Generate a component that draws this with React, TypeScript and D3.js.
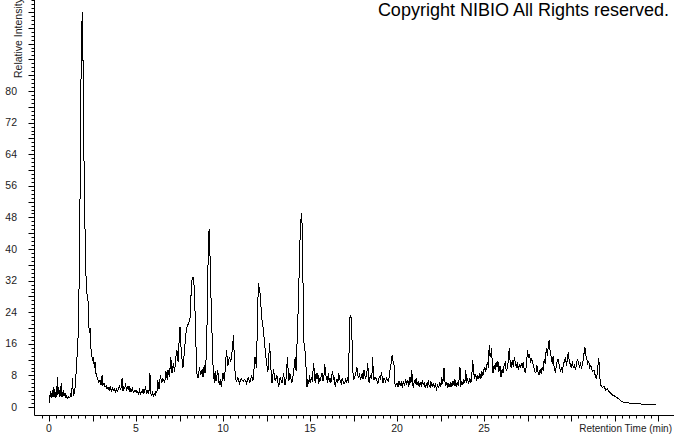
import React, { useRef, useEffect } from 'react';
import * as d3 from 'd3';

// [retention time (min), relative intensity]
const solventFront = [
  [0.0, 1.0], [0.02, 3.0], [0.05, 2.0], [0.08, 4.0], [0.11, 2.5], [0.14, 3.6], [0.17, 2.2], [0.2, 4.2], [0.23, 2.6], [0.26, 5.0],
  [0.29, 2.8], [0.32, 4.5], [0.35, 2.4], [0.38, 3.8], [0.41, 2.6], [0.44, 5.2], [0.47, 3.0], [0.5, 7.6], [0.53, 3.2], [0.56, 4.8],
  [0.6, 2.6], [0.63, 4.4], [0.66, 2.8], [0.7, 6.0], [0.73, 2.5], [0.76, 3.8], [0.8, 2.6], [0.84, 4.2], [0.88, 2.8], [0.92, 3.5],
  [0.96, 2.5], [1.0, 2.8], [1.05, 2.2], [1.1, 2.6], [1.15, 2.3], [1.2, 2.5], [1.25, 3.2], [1.3, 2.6], [1.35, 7.3], [1.4, 2.8],
  [1.45, 3.5], [1.5, 5.0], [1.58, 10], [1.69, 19.5], [1.76, 40], [1.8, 62], [1.83, 80], [1.88, 94.7], [1.91, 100], [1.95, 90],
  [1.97, 80], [2.03, 55], [2.11, 35], [2.17, 29], [2.24, 27], [2.31, 18.7], [2.39, 20], [2.42, 13.7], [2.5, 12.0], [2.56, 12.7],
  [2.6, 10], [2.65, 11.5], [2.7, 8.5], [2.76, 7.6], [2.85, 6.3], [2.93, 6.8], [3.0, 5.5], [3.05, 8.0], [3.1, 5.6], [3.16, 6.0],
  [3.22, 5.0], [3.28, 5.4], [3.34, 4.6], [3.4, 5.0], [3.46, 4.3], [3.52, 5.2], [3.58, 4.0], [3.64, 4.8], [3.7, 4.2], [3.76, 4.6],
  [3.82, 3.8], [3.88, 4.5], [3.94, 4.0], [4.0, 4.8], [4.05, 5.5], [4.1, 4.3], [4.15, 5.0], [4.2, 7.3], [4.25, 4.0], [4.3, 5.2],
  [4.35, 4.5], [4.4, 6.0], [4.45, 4.0], [4.5, 5.0], [4.55, 4.4], [4.6, 5.2], [4.65, 3.8], [4.7, 4.6], [4.75, 4.0], [4.8, 4.6],
  [4.85, 3.5], [4.9, 4.2], [4.95, 3.8], [5.0, 4.3], [5.05, 3.6], [5.1, 4.0], [5.15, 3.4], [5.2, 4.2], [5.25, 3.3], [5.3, 4.0],
  [5.35, 3.6], [5.4, 4.5], [5.45, 3.5], [5.5, 4.2], [5.55, 5.2], [5.6, 3.6], [5.65, 4.0], [5.7, 3.5], [5.75, 4.2], [5.8, 8.6],
  [5.85, 3.5], [5.9, 3.0], [5.95, 3.6], [6.0, 2.8], [6.05, 3.4], [6.1, 3.0], [6.15, 4.0], [6.2, 3.6],
];

const earlyPeaks = [
  [6.25, 6.8], [6.32, 4.5], [6.4, 8.0], [6.48, 6.0], [6.55, 7.2], [6.65, 6.2], [6.72, 9.0], [6.8, 6.8], [6.84, 9.4], [6.92, 7.5],
  [7.0, 12.7], [7.07, 8.5], [7.15, 11.0], [7.22, 9.0], [7.3, 13.0], [7.35, 14.4], [7.42, 11.5], [7.47, 16], [7.53, 20.3], [7.6, 14],
  [7.7, 9.9], [7.78, 14], [7.9, 20], [8.0, 21], [8.1, 22], [8.2, 32], [8.29, 33], [8.35, 30], [8.39, 24.5], [8.45, 15],
  [8.49, 8.6], [8.57, 7.3], [8.65, 10], [8.72, 8.0], [8.8, 9.5], [8.85, 7.5], [8.92, 10.5], [8.97, 8.5], [9.05, 13.7], [9.1, 25],
  [9.15, 39], [9.2, 45], [9.25, 39], [9.32, 26], [9.42, 11], [9.5, 6], [9.55, 9.0], [9.6, 6.5], [9.7, 9.4], [9.78, 5.5],
  [9.85, 7.0], [9.9, 5.0], [10.0, 8.6], [10.08, 6.5], [10.2, 14.4], [10.28, 10.5], [10.37, 12.7], [10.45, 11.5], [10.55, 15.0], [10.6, 18.2],
  [10.67, 10], [10.76, 6.3], [10.85, 7.5], [10.95, 6.0], [11.05, 7.2], [11.15, 6.5], [11.25, 7.0], [11.35, 6.0], [11.45, 7.5], [11.55, 6.2],
  [11.65, 8.0], [11.72, 6.5], [11.84, 12.7], [11.92, 10], [12.03, 31.4], [12.13, 28.9], [12.22, 22.8], [12.32, 19.5], [12.41, 15.2], [12.5, 11],
  [12.58, 9], [12.68, 16.2], [12.75, 10], [12.82, 6], [12.9, 9.5], [13.0, 6.5], [13.1, 8.0], [13.2, 5.0], [13.28, 7.5], [13.4, 6.0],
  [13.48, 8.5], [13.56, 5.5], [13.65, 8.0], [13.7, 12.7], [13.78, 6.5], [13.85, 8.5], [13.95, 6.0], [14.05, 8.5], [14.15, 12.7], [14.2, 9.0],
  [14.33, 26], [14.43, 43], [14.5, 49], [14.57, 44.8], [14.63, 17], [14.73, 13.7],
];

const midTrace = [
  [14.83, 5], [14.88, 7.0], [14.93, 5.8], [14.98, 8.0], [15.03, 6.0], [15.08, 7.6], [15.13, 6.4], [15.18, 9.5], [15.22, 11], [15.26, 7.0],
  [15.3, 6.6], [15.35, 8.5], [15.4, 7.0], [15.45, 8.6], [15.5, 5.9], [15.55, 7.2], [15.6, 6.5], [15.65, 8.0], [15.7, 8.6], [15.75, 6.5],
  [15.8, 7.8], [15.85, 11], [15.9, 8.0], [15.95, 7.6], [16.0, 6.2], [16.05, 8.5], [16.1, 6.4], [16.15, 7.2], [16.2, 6.0], [16.25, 8.0],
  [16.3, 9.0], [16.35, 6.8], [16.4, 7.5], [16.45, 5.0], [16.5, 6.5], [16.55, 7.0], [16.6, 6.0], [16.65, 8.6], [16.7, 7.0], [16.75, 6.5],
  [16.8, 6.0], [16.85, 7.2], [16.9, 6.5], [16.95, 5.8], [17.0, 6.0], [17.05, 7.0], [17.1, 6.5], [17.15, 7.2], [17.2, 6.2], [17.25, 15],
  [17.3, 22.8], [17.35, 23.3], [17.4, 20], [17.45, 10], [17.5, 6.8], [17.55, 7.5], [17.6, 8.0], [17.65, 9.0], [17.7, 10], [17.75, 8.0],
  [17.8, 7.5], [17.85, 8.5], [17.9, 6.8], [17.95, 7.5], [18.0, 8.5], [18.05, 7.0], [18.1, 9.4], [18.15, 8.0], [18.2, 7.0], [18.26, 8.5],
  [18.32, 11], [18.36, 8.0], [18.4, 6.0], [18.45, 7.5], [18.5, 8.0], [18.55, 7.2], [18.6, 12.7], [18.64, 8.5], [18.68, 6.8], [18.74, 7.5],
  [18.8, 7.2], [18.85, 6.5], [18.9, 6.0], [18.95, 7.0], [19.0, 7.8], [19.05, 6.8], [19.1, 8.9], [19.15, 7.5], [19.2, 6.0], [19.25, 7.2],
  [19.3, 7.0], [19.35, 6.2], [19.4, 7.6], [19.45, 6.8], [19.5, 6.5], [19.55, 7.5], [19.6, 9.4], [19.66, 11], [19.72, 13.2], [19.78, 11.5],
  [19.83, 10.6], [19.87, 7.0], [19.9, 5.0], [19.95, 5.8], [20.0, 6.0], [20.06, 5.0], [20.12, 6.6], [20.18, 5.4], [20.25, 6.2], [20.3, 4.9],
  [20.37, 6.5], [20.43, 5.3], [20.5, 7.0], [20.55, 5.6], [20.62, 6.8], [20.68, 5.2], [20.75, 7.6], [20.8, 6.0], [20.85, 9.4], [20.9, 5.5],
  [20.95, 5.0], [21.0, 6.8], [21.05, 5.8], [21.1, 7.2], [21.15, 5.5], [21.22, 6.5], [21.28, 5.0], [21.33, 6.3], [21.4, 5.2], [21.45, 6.8],
  [21.5, 5.6], [21.56, 6.2], [21.62, 4.8], [21.68, 5.9], [21.75, 5.2], [21.8, 6.8], [21.85, 5.4], [21.9, 5.0], [21.95, 6.5], [22.02, 5.2],
  [22.08, 6.0], [22.14, 5.0], [22.2, 5.8], [22.27, 4.6], [22.33, 5.6], [22.4, 5.0], [22.46, 6.2], [22.52, 5.2], [22.57, 7.6], [22.63, 5.8],
  [22.7, 9.9], [22.75, 6.5], [22.8, 5.4], [22.86, 6.4], [22.92, 4.9], [22.98, 6.0], [23.04, 5.0], [23.1, 6.2], [23.16, 5.2], [23.22, 6.6],
  [23.28, 5.4], [23.33, 7.0], [23.4, 5.0], [23.46, 6.3], [23.52, 5.3], [23.58, 7.5], [23.62, 10], [23.66, 5.0], [23.72, 6.5], [23.78, 5.6],
  [23.84, 7.0], [23.9, 6.0], [23.95, 9.4], [24.0, 6.2], [24.06, 7.0], [24.12, 5.8], [24.18, 7.4], [24.24, 6.0], [24.3, 8.0], [24.35, 11.9],
  [24.4, 9.0], [24.46, 7.2], [24.52, 8.4], [24.58, 6.5], [24.64, 8.0], [24.7, 7.0], [24.76, 8.5], [24.82, 7.2], [24.88, 9.0], [24.94, 8.0],
];

const lateHump = [
  [25.0, 9.5], [25.05, 10], [25.1, 8.8], [25.15, 10.5], [25.2, 11.4], [25.25, 10.0], [25.3, 15.7], [25.35, 12.7], [25.4, 13.5], [25.43, 14.9],
  [25.48, 11], [25.52, 8.6], [25.58, 10.5], [25.64, 9.5], [25.7, 11.4], [25.75, 10.2], [25.8, 11.5], [25.86, 9.0], [25.92, 10.4], [25.98, 7.6],
  [26.04, 9.5], [26.1, 8.5], [26.16, 10.6], [26.22, 11.2], [26.28, 9.2], [26.35, 9.9], [26.4, 12.0], [26.45, 14.9], [26.5, 11.5], [26.56, 10],
  [26.62, 11.8], [26.68, 10.2], [26.75, 12.7], [26.8, 11.0], [26.86, 10.0], [26.92, 11.3], [26.97, 9.4], [27.03, 10.8], [27.09, 9.8], [27.15, 11.2],
  [27.2, 10.0], [27.26, 11.5], [27.32, 9.2], [27.38, 8.9], [27.44, 10.5], [27.5, 14.4], [27.56, 12.5], [27.62, 13.2], [27.68, 11.5], [27.74, 12.2],
  [27.8, 11.0], [27.86, 10.2], [27.92, 9.0], [27.98, 8.6], [28.04, 10.5], [28.1, 9.0], [28.16, 8.1], [28.22, 9.5], [28.28, 8.5], [28.34, 10.0],
  [28.4, 9.4], [28.46, 12.0], [28.52, 11.0], [28.58, 14.9], [28.64, 13.0], [28.7, 15.5], [28.75, 17.0], [28.8, 14.0], [28.86, 12.7], [28.92, 11.0],
  [28.98, 13.0], [29.04, 9.5], [29.1, 8.9], [29.16, 10.5], [29.22, 12.0], [29.28, 11.9], [29.34, 10.0], [29.4, 9.0], [29.46, 10.2], [29.5, 8.6],
  [29.56, 10.8], [29.62, 11.5], [29.68, 12.7], [29.74, 10.5], [29.8, 12.5], [29.85, 13.9], [29.9, 11.5], [29.96, 10.8], [30.02, 10.0], [30.08, 11.5],
  [30.14, 9.8], [30.2, 10.8], [30.25, 9.4], [30.3, 10.5], [30.36, 12.0], [30.42, 11.4], [30.48, 10.2], [30.54, 11.0], [30.6, 9.9], [30.66, 10.8],
  [30.72, 12.5], [30.76, 14.0], [30.8, 15.2], [30.85, 13.0], [30.9, 12.4], [30.96, 11.0], [31.02, 11.5], [31.08, 10.0], [31.14, 10.6], [31.2, 9.5],
  [31.26, 9.0], [31.32, 9.4], [31.38, 8.2], [31.45, 7.3], [31.5, 8.1], [31.55, 10.5], [31.6, 12.4], [31.65, 8.0], [31.7, 5.6], [31.8, 5.0],
  [31.9, 5.2], [32.0, 4.3], [32.08, 4.6], [32.2, 3.8], [32.3, 3.4], [32.4, 3.0], [32.5, 2.8], [32.6, 2.5], [32.7, 2.2], [32.8, 1.8],
  [32.95, 1.3], [33.1, 1.2], [33.35, 1.0], [33.9, 0.8], [34.9, 0.5],
];

const xTickLabels = [0, 5, 10, 15, 20, 25];
const yTickLabels = [0, 8, 16, 24, 32, 40, 48, 56, 64, 72, 80];

const W = 674;
const H = 434;

const App = () => {
  const ref = useRef<SVGSVGElement>(null);

  useEffect(() => {
    const svg = d3.select(ref.current);
    svg.selectAll('*').remove();

    const x = d3.scaleLinear().domain([0, 35]).range([49, 658]);
    const y = d3.scaleLinear().domain([0, 100]).range([407, 12]);
    const axisX = 34.5;
    const axisY = 415.5;
    const font = 'Arial, "Liberation Sans", sans-serif';

    svg.append('rect').attr('width', W).attr('height', H).attr('fill', '#fff');

    // axis lines
    svg.append('line')
      .attr('x1', axisX).attr('x2', axisX).attr('y1', 0).attr('y2', axisY)
      .attr('stroke', '#000');
    svg.append('line')
      .attr('x1', axisX).attr('x2', W).attr('y1', axisY).attr('y2', axisY)
      .attr('stroke', '#000');

    // y ticks: every 1 minor, every 4 major
    const yTicks = d3.range(0, 104);
    svg.append('g').selectAll('line')
      .data(yTicks)
      .enter()
      .append('line')
      .attr('x1', d => axisX - (d % 4 === 0 ? 6 : 3))
      .attr('x2', axisX)
      .attr('y1', d => Math.round(y(d)) + 0.5)
      .attr('y2', d => Math.round(y(d)) + 0.5)
      .attr('stroke', '#000');

    svg.append('g').selectAll('text')
      .data(yTickLabels)
      .enter()
      .append('text')
      .attr('x', 17)
      .attr('y', d => y(d) + 3.5)
      .attr('text-anchor', 'end')
      .attr('font-family', font)
      .attr('font-size', 10.5)
      .attr('fill', '#222')
      .text(d => d);

    // x ticks: every 5/12 min minor, every 2.5 min major
    const xTicks = d3.range(-1, 85).map(i => i * 5 / 12);
    svg.append('g').selectAll('line')
      .data(xTicks)
      .enter()
      .append('line')
      .attr('x1', d => Math.round(x(d)) + 0.5)
      .attr('x2', d => Math.round(x(d)) + 0.5)
      .attr('y1', axisY)
      .attr('y2', (d, i) => axisY + ((i - 1) % 6 === 0 ? 6 : 3))
      .attr('stroke', '#000');

    svg.append('g').selectAll('text')
      .data(xTickLabels)
      .enter()
      .append('text')
      .attr('x', d => x(d))
      .attr('y', 432)
      .attr('text-anchor', 'middle')
      .attr('font-family', font)
      .attr('font-size', 10.5)
      .attr('fill', '#222')
      .text(d => d);

    svg.append('text')
      .attr('x', 672)
      .attr('y', 432)
      .attr('text-anchor', 'end')
      .attr('font-family', font)
      .attr('font-size', 10)
      .attr('fill', '#222')
      .text('Retention Time (min)');

    // axis title runs off the top edge, as in the original
    svg.append('text')
      .attr('transform', 'translate(22,78) rotate(-90)')
      .attr('font-family', font)
      .attr('font-size', 10.5)
      .attr('fill', '#222')
      .text('Relative Intensity');

    // chromatogram trace
    const points = [...solventFront, ...earlyPeaks, ...midTrace, ...lateHump] as [number, number][];
    const line = d3.line<[number, number]>()
      .x(d => x(d[0]))
      .y(d => y(d[1]));
    svg.append('path')
      .datum(points)
      .attr('d', line)
      .attr('fill', 'none')
      .attr('stroke', '#000')
      .attr('stroke-width', 1)
      .attr('shape-rendering', 'crispEdges');

    svg.append('text')
      .attr('x', 669)
      .attr('y', 15.5)
      .attr('text-anchor', 'end')
      .attr('font-family', font)
      .attr('font-size', 18)
      .attr('fill', '#000')
      .text('Copyright NIBIO All Rights reserved.');
  }, []);

  return (
    <svg
      ref={ref}
      width={W}
      height={H}
      style={{ position: 'absolute', left: 0, top: 0 }}
    />
  );
};

export default App;
